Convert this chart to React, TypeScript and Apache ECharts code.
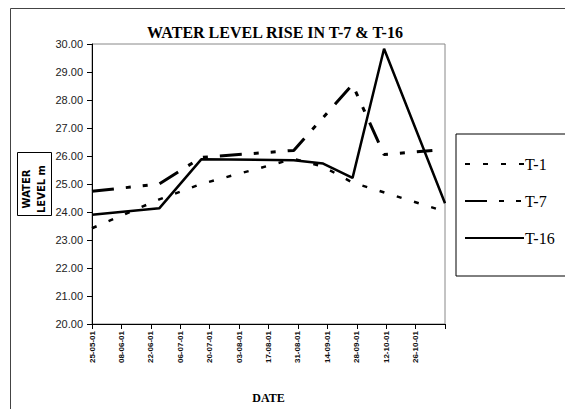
import React, { useEffect, useRef } from "react";
import * as echarts from "echarts";

// Sampling dates (dd-mm-yy) and water levels in metres for each well
const t1Dates = ["25-05-01", "26-06-01", "16-07-01", "29-08-01", "12-09-01", "26-09-01", "09-11-01"];
const t1Levels = [23.42, 24.45, 25.0, 25.9, 25.62, 25.05, 24.02];

const t7Dates = ["25-05-01", "26-06-01", "16-07-01", "29-08-01", "26-09-01", "11-10-01", "03-11-01"];
const t7Levels = [24.74, 25.0, 25.95, 26.2, 28.55, 26.05, 26.2];

const t16Dates = ["25-05-01", "26-06-01", "16-07-01", "29-08-01", "12-09-01", "26-09-01", "11-10-01", "09-11-01"];
const t16Levels = [23.9, 24.13, 25.88, 25.85, 25.73, 25.22, 29.83, 24.31];

// Axis range: first sampling date, fortnightly ticks
const startDate = "25-05-01";
const tickDays = 14;
const spanDays = 168;
const yMin = 20;
const yMax = 30;

const DAY = 86400000;
const parseDate = (s: string) => {
  const [d, m, y] = s.split("-").map(Number);
  return Date.UTC(2000 + y, m - 1, d);
};
const t0 = parseDate(startDate);
const toDay = (s: string) => Math.round((parseDate(s) - t0) / DAY);
const pad = (n: number) => (n < 10 ? "0" + n : String(n));
const fmtDay = (v: number) => {
  const dt = new Date(t0 + v * DAY);
  return `${pad(dt.getUTCDate())}-${pad(dt.getUTCMonth() + 1)}-${pad(dt.getUTCFullYear() % 100)}`;
};
const pairs = (dates: string[], vals: number[]) => dates.map((d, i) => [toDay(d), vals[i]]);

export default function App() {
  const ref = useRef<HTMLDivElement>(null);

  useEffect(() => {
    document.body.style.margin = "0";
    if (!ref.current) return;
    const chart = echarts.init(ref.current, null, { renderer: "svg" });
    const serif = "'Liberation Serif', 'Times New Roman', serif";
    const sans = "'Liberation Sans', Arial, sans-serif";
    chart.setOption({
      animation: false,
      backgroundColor: "#ffffff",
      title: {
        text: "WATER LEVEL RISE IN T-7 & T-16",
        left: 270,
        textAlign: "center",
        top: 19,
        textStyle: { fontFamily: serif, fontWeight: "bold", fontSize: 16, color: "#000" },
      },
      grid: {
        left: 92,
        top: 44,
        right: 120,
        bottom: 79,
        show: true,
        borderColor: "#888",
        borderWidth: 1,
        backgroundColor: "transparent",
      },
      legend: {
        orient: "vertical",
        left: 456,
        top: 134,
        padding: [22, 60, 30, 8],
        itemGap: 21,
        itemWidth: 59,
        itemHeight: 14,
        borderColor: "#000",
        borderWidth: 1,
        itemStyle: { opacity: 0 },
        textStyle: { fontFamily: serif, fontSize: 16, color: "#000", padding: [0, 0, 0, -4] },
        data: ["T-1", "T-7", "T-16"],
      },
      xAxis: {
        type: "value",
        min: 0,
        max: spanDays,
        interval: tickDays,
        name: "DATE",
        nameLocation: "middle",
        nameGap: 68,
        nameTextStyle: { fontFamily: serif, fontWeight: "bold", fontSize: 12, color: "#000" },
        axisLine: { lineStyle: { color: "#000", width: 1 } },
        axisTick: { show: true, length: 5, lineStyle: { color: "#000" } },
        splitLine: { show: false },
        axisLabel: {
          rotate: 90,
          margin: 7,
          fontFamily: sans,
          fontSize: 8,
          fontWeight: "bold",
          color: "#111",
          formatter: (v: number) => (v < spanDays ? fmtDay(v) : ""),
        },
      },
      yAxis: {
        type: "value",
        min: yMin,
        max: yMax,
        interval: 1,
        axisLine: { show: true, lineStyle: { color: "#000", width: 1 } },
        axisTick: { show: true, length: 5, lineStyle: { color: "#000" } },
        splitLine: { show: false },
        axisLabel: {
          margin: 9,
          fontFamily: sans,
          fontSize: 11,
          color: "#222",
          formatter: (v: number) => v.toFixed(2),
        },
      },
      series: [
        {
          name: "T-1",
          type: "line",
          symbol: "none",
          data: pairs(t1Dates, t1Levels),
          lineStyle: { color: "#000", width: 2.5, type: [5, 13] },
          itemStyle: { color: "#000" },
        },
        {
          name: "T-7",
          type: "line",
          symbol: "none",
          data: pairs(t7Dates, t7Levels),
          lineStyle: { color: "#000", width: 3, type: [22, 12, 5, 12, 5, 12] },
          itemStyle: { color: "#000" },
        },
        {
          name: "T-16",
          type: "line",
          symbol: "none",
          data: pairs(t16Dates, t16Levels),
          lineStyle: { color: "#000", width: 2.5, type: "solid" },
          itemStyle: { color: "#000" },
        },
      ],
      graphic: [
        {
          type: "rect",
          shape: { x: 10.5, y: 8.5, width: 700, height: 500 },
          style: { fill: "none", stroke: "#444", lineWidth: 1 },
          silent: true,
        },
        {
          type: "rect",
          shape: { x: 17.5, y: 152.5, width: 34, height: 63 },
          style: { fill: "#fff", stroke: "#000", lineWidth: 1 },
          silent: true,
        },
        {
          type: "text",
          x: 26,
          y: 189,
          rotation: Math.PI / 2,
          style: {
            text: "WATER",
            align: "center",
            verticalAlign: "middle",
            fontFamily: "'DejaVu Sans', sans-serif",
            fontWeight: "bold",
            fontSize: 10,
            fill: "#000",
          },
          silent: true,
        },
        {
          type: "text",
          x: 41,
          y: 189,
          rotation: Math.PI / 2,
          style: {
            text: "LEVEL m",
            align: "center",
            verticalAlign: "middle",
            fontFamily: "'DejaVu Sans', sans-serif",
            fontWeight: "bold",
            fontSize: 10,
            fill: "#000",
          },
          silent: true,
        },
      ],
    });
    return () => chart.dispose();
  }, []);

  return <div ref={ref} style={{ width: 565, height: 409 }} />;
}
